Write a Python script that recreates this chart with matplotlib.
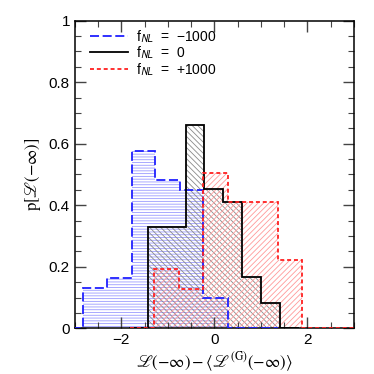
import matplotlib
matplotlib.use("Agg")
import matplotlib.pyplot as plt
from matplotlib.ticker import MultipleLocator

plt.rcParams['font.family'] = ['Liberation Sans', 'DejaVu Sans']
plt.rcParams['mathtext.fontset'] = 'stix'
plt.rcParams['hatch.linewidth'] = 0.6

# data
blue_edges = [-3.35, -2.83, -2.30, -1.78, -1.27, -0.74, -0.24, 0.30, 0.83, 1.36]
blue_vals = [0, 0.13, 0.163, 0.577, 0.482, 0.45, 0.098, 0, 0]

black_edges = [-1.84, -1.43, -1.02, -0.61, -0.22, 0.19, 0.60, 1.00, 1.41, 1.82]
black_vals = [0, 0.33, 0.33, 0.661, 0.454, 0.412, 0.166, 0.082, 0]

red_edges = [-1.82, -1.30, -0.77, -0.24, 0.30, 0.83, 1.36, 1.88, 2.40, 2.93, 3.45]
red_vals = [0, 0.192, 0.127, 0.506, 0.412, 0.412, 0.222, 0, 0, 0]

labels = ['f$_{\\mathsf{NL}}$  =  \u22121000', 'f$_{\\mathsf{NL}}$  =  0', 'f$_{\\mathsf{NL}}$  =  +1000']

fig = plt.figure(figsize=(3.74, 3.74), dpi=100)
ax = fig.add_axes([0.2, 0.122, 0.7465, 0.823])

def hatch_bars(edges, vals, color, hatch):
    lefts = edges[:-1]
    widths = [b - a for a, b in zip(edges[:-1], edges[1:])]
    ax.bar(lefts, vals, width=widths, align='edge', facecolor='none',
           edgecolor=color, hatch=hatch, linewidth=0, zorder=1)

hatch_bars(blue_edges, blue_vals, '#9a9aff', '------')
hatch_bars(black_edges, black_vals, '#8a8a8a', '\\\\\\\\\\\\')
hatch_bars(red_edges, red_vals, '#ff9a9a', '//////')

ax.stairs(blue_vals, blue_edges, baseline=0, color='#2020ff', lw=1.3,
          linestyle=(0, (5, 2)), label=labels[0], zorder=3)
ax.stairs(black_vals, black_edges, baseline=0, color='black', lw=1.3,
          linestyle='-', label=labels[1], zorder=3)
ax.stairs(red_vals, red_edges, baseline=0, color='#ff2020', lw=1.3,
          linestyle=(0, (2.2, 1.6)), label=labels[2], zorder=3)

ax.set_xlim(-3, 3)
ax.set_ylim(0, 1)
ax.xaxis.set_major_locator(MultipleLocator(2))
ax.xaxis.set_minor_locator(MultipleLocator(0.5))
ax.yaxis.set_major_locator(MultipleLocator(0.2))
ax.yaxis.set_minor_locator(MultipleLocator(0.05))
ax.yaxis.set_major_formatter(plt.FuncFormatter(lambda v, p: '0' if abs(v) < 1e-9 else ('1' if abs(v - 1) < 1e-9 else f'{v:.1f}')))
ax.tick_params(which='both', direction='in', top=True, right=True, labelsize=11, color='#444444')
ax.tick_params(which='major', length=8, width=1)
ax.tick_params(which='minor', length=4, width=0.8)
for s in ax.spines.values():
    s.set_linewidth(1.1)

ax.set_xlabel(r'$\mathscr{L}(-\infty)-\langle\mathscr{L}^{(\mathrm{G})}(-\infty)\rangle$', fontsize=12, labelpad=2)
ax.set_ylabel(r'$\mathrm{p}[\mathscr{L}(-\infty)]$', fontsize=12, labelpad=4)

leg = ax.legend(loc='upper left', bbox_to_anchor=(0.055, 0.975), frameon=False,
                fontsize=10, handlelength=2.7, handletextpad=0.6, labelspacing=0.0,
                borderpad=0, borderaxespad=0)

fig.savefig('out.png', dpi=100)
